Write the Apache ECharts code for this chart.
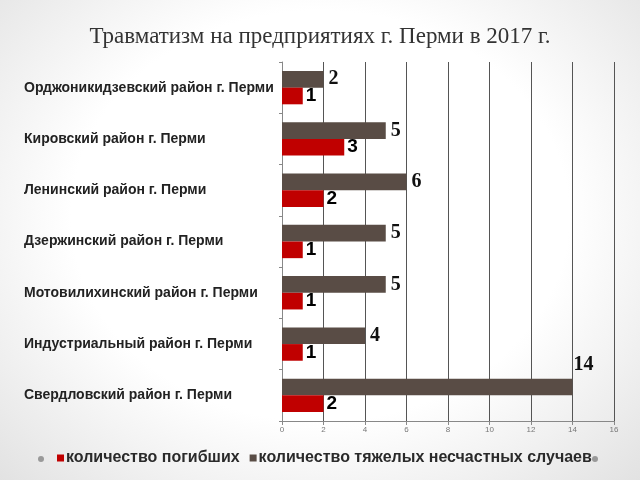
<!DOCTYPE html>
<html><head><meta charset="utf-8">
<script src="https://cdn.jsdelivr.net/npm/echarts@6/dist/echarts.min.js"></script>
<style>html,body{margin:0;padding:0;}#c{width:640px;height:480px;background:radial-gradient(ellipse at 50% 45%, #ffffff 55%, #e2e2e2 100%);}</style>
</head><body><div id="c"></div>
<script>
const districts = ['Свердловский район г. Перми','Индустриальный район г. Перми','Мотовилихинский район г. Перми','Дзержинский район г. Перми','Ленинский район г. Перми','Кировский район г. Перми','Орджоникидзевский район г. Перми'];
const deaths = [2,1,1,1,2,3,1];
const severe = [14,4,5,5,6,5,2];
const xTicks = [0,2,4,6,8,10,12,14,16];

const chart = echarts.init(document.getElementById('c'));
chart.setOption({
  title:{text:'Травматизм на предприятиях г. Перми в 2017 г.',left:'center',top:20,textStyle:{fontFamily:'Liberation Serif',fontSize:23,fontWeight:'normal',color:'#333'}},
  grid:{left:282,right:26,top:62,bottom:59},
  legend:{bottom:9,left:52,itemWidth:7,itemHeight:7,itemGap:10,icon:'rect',itemStyle:{borderWidth:0},
    textStyle:{fontFamily:'Liberation Sans',fontSize:16,fontWeight:'bold',color:'#2a2a2a',padding:[0,0,0,-3]},
    data:['количество погибших','количество тяжелых несчастных случаев']},
  xAxis:{type:'value',min:0,max:16,interval:2,
    axisLine:{show:true,lineStyle:{color:'#888'}},axisTick:{show:true,length:4,lineStyle:{color:'#888'}},
    axisLabel:{fontSize:8,color:'#777',fontFamily:'Liberation Sans',margin:5},
    splitLine:{show:true,lineStyle:{color:'#555',width:1}}},
  yAxis:{type:'category',data:districts,
    axisLine:{lineStyle:{color:'#888'}},axisTick:{show:true,length:3,lineStyle:{color:'#888'}},
    axisLabel:{align:'left',margin:258,fontSize:14,fontWeight:'bold',color:'#222',fontFamily:'Liberation Sans'}},
  series:[
    {name:'количество тяжелых несчастных случаев',type:'bar',barGap:'0%',barCategoryGap:'35%',
     data:severe.map((v,i)=> i===0?{value:v,label:{offset:[-4,-22]}}:v),
     itemStyle:{color:'#594c45'},
     label:{show:true,position:'right',distance:5,fontFamily:'Liberation Serif',fontWeight:'bold',fontSize:20,color:'#111'}},
    {name:'количество погибших',type:'bar',data:deaths,barGap:'0%',barCategoryGap:'35%',
     itemStyle:{color:'#c00000'},
     label:{show:true,position:'right',distance:3,fontFamily:'Liberation Sans',fontWeight:'bold',fontSize:19,color:'#000'}}
  ],
  graphic:[
    {type:'circle',shape:{cx:41,cy:459,r:3},style:{fill:'#999'}},
    {type:'circle',shape:{cx:595,cy:459,r:3},style:{fill:'#999'}}
  ]
});
</script></body></html>
